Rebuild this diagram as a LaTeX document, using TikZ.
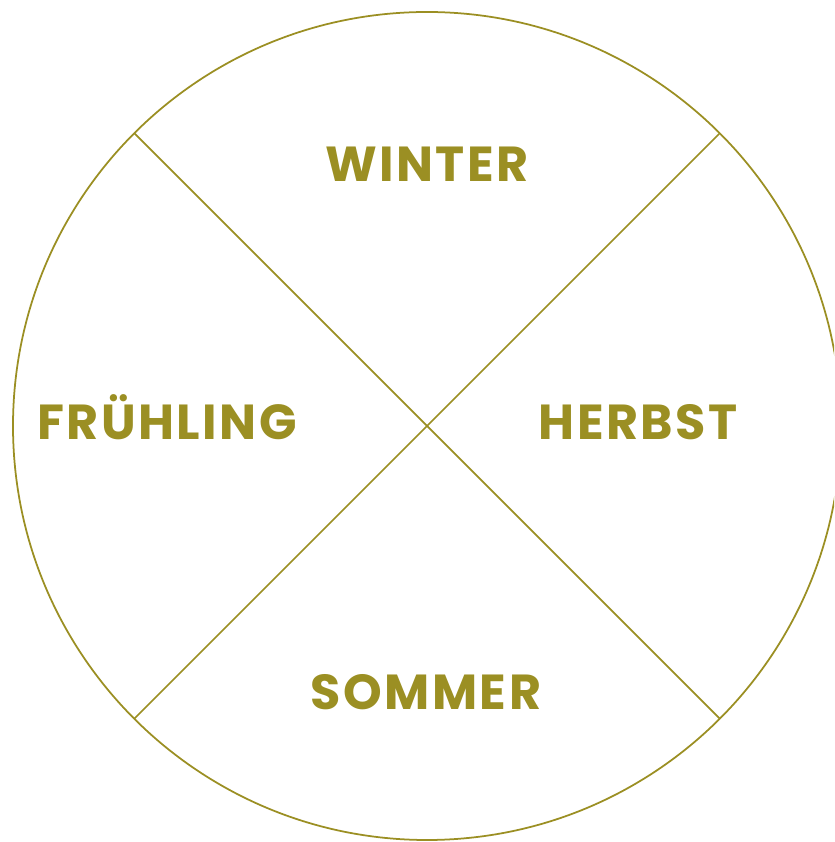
\documentclass[tikz,border=0pt]{standalone}
\usepackage{fontspec}
\newfontfamily\seasonfont{Poppins}[LetterSpace=5]
\usetikzlibrary{positioning,calc}
\definecolor{olive}{RGB}{155,143,35}

\begin{document}
\begin{tikzpicture}[x=0.03cm,y=0.03cm,
 wheel/.style={draw=olive,line width=1.5pt},
 season/.style={text=olive,font=\seasonfont\bfseries\fontsize{42}{42}\selectfont,inner sep=0pt,anchor=base}]
\useasboundingbox (0,0) rectangle (834,842);
\clip (0,0) rectangle (834,842);
\coordinate (c) at (427,416);
\draw[wheel] (c) circle[radius=414];
\coordinate (nw) at ($(c)+(135:414)$);
\coordinate (ne) at ($(c)+(45:414)$);
\coordinate (sw) at ($(c)+(225:414)$);
\coordinate (se) at ($(c)+(-45:414)$);
\draw[wheel] (nw) -- (se);
\draw[wheel] (ne) -- (sw);
\node[season] (winter) at (427,660) {WINTER};
\node[season] (fruehling) at (167,402) {FRÜHLING};
\node[season] (herbst) at (638,402) {HERBST};
\node[season] (sommer) at (426,132) {SOMMER};
\end{tikzpicture}
\end{document}
